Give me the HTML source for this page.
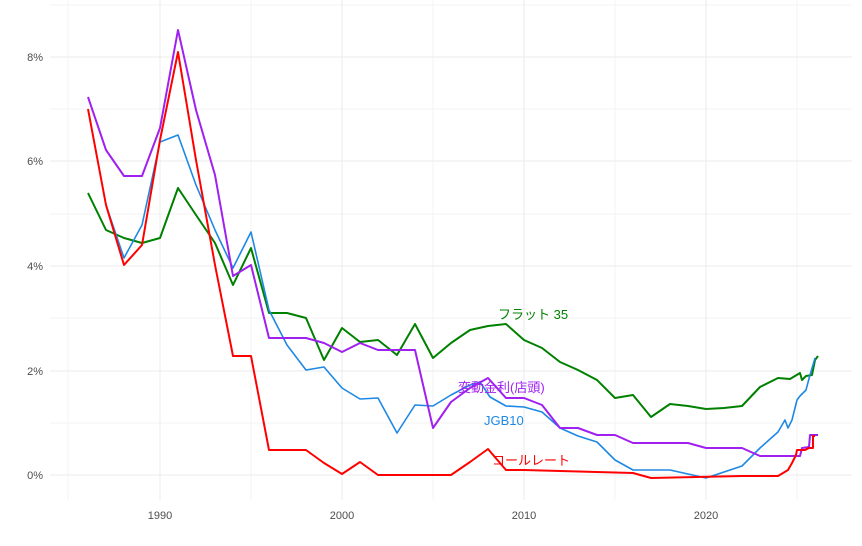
<!DOCTYPE html>
<html><head><meta charset="utf-8"><style>body{margin:0;background:#fff}svg{display:block}</style></head><body>
<svg width="862" height="546" xmlns="http://www.w3.org/2000/svg" font-family="Liberation Sans, Noto Sans CJK JP, sans-serif">
<g stroke="#f3f3f3" stroke-width="1">
<line x1="50" x2="852" y1="423" y2="423"/><line x1="50" x2="852" y1="318" y2="318"/><line x1="50" x2="852" y1="214" y2="214"/><line x1="50" x2="852" y1="109" y2="109"/><line x1="50" x2="852" y1="5" y2="5"/>
<line x1="68" x2="68" y1="0" y2="500"/><line x1="251" x2="251" y1="0" y2="500"/><line x1="433" x2="433" y1="0" y2="500"/><line x1="615" x2="615" y1="0" y2="500"/><line x1="797" x2="797" y1="0" y2="500"/>
</g>
<g stroke="#ebebeb" stroke-width="1">
<line x1="50" x2="852" y1="475" y2="475"/><line x1="50" x2="852" y1="371" y2="371"/><line x1="50" x2="852" y1="266" y2="266"/><line x1="50" x2="852" y1="161" y2="161"/><line x1="50" x2="852" y1="57" y2="57"/>
<line x1="160" x2="160" y1="0" y2="500"/><line x1="342" x2="342" y1="0" y2="500"/><line x1="524" x2="524" y1="0" y2="500"/><line x1="706" x2="706" y1="0" y2="500"/>
</g>
<g font-size="11" fill="#4d4d4d" text-anchor="end">
<text x="43" y="479">0%</text><text x="43" y="375">2%</text><text x="43" y="270">4%</text><text x="43" y="165">6%</text><text x="43" y="61">8%</text>
</g>
<g font-size="11" fill="#4d4d4d" text-anchor="middle">
<text x="160" y="519">1990</text><text x="342" y="519">2000</text><text x="524" y="519">2010</text><text x="706" y="519">2020</text>
</g>
<g fill="none" stroke-width="2" stroke-linejoin="round">
<polyline stroke="#008000" points="88,193 106,230 124,238 142,243 160,238 178,188 196,215 215,243 233,285 251,248 269,313 287,313 306,318 324,360 342,328 360,342 378,340 397,355 415,324 433,358 451,343 470,330 488,326 506,324 524,340 542,348 560,362 578,370 597,380 615,398 633,395 651,417 670,404 688,406 706,409 724,408 742,406 760,387 778,378 790,379 800,373 802,380 806,376 812,375 815,360 818,356"/>
<polyline stroke="#1e88e5" stroke-width="1.6" points="106,205 124,258 142,225 160,142 178,135 196,185 215,230 233,268 251,232 269,310 287,345 306,370 324,367 342,388 360,399 378,398 397,433 415,405 433,406 451,395 470,385 480,382 490,397 506,406 524,407 542,412 560,428 578,436 597,442 615,460 633,470 670,470 688,474 706,478 724,472 742,466 760,448 778,432 785,420 788,428 792,420 797,400 800,396 806,390 810,375 815,358"/>
<polyline stroke="#a020f0" points="88,97 106,150 124,176 142,176 160,128 178,30 196,110 215,175 233,276 251,265 269,338 306,338 324,343 342,352 360,343 378,350 415,350 433,428 451,402 470,388 488,378 506,398 524,398 542,405 560,428 578,428 597,435 615,435 633,443 670,443 688,443 706,448 742,448 760,456 800,456 802,448 809,447 810,435 818,435"/>
<polyline stroke="#ff0000" points="88,109 106,205 124,265 142,245 160,140 178,52 196,160 215,265 233,356 251,356 269,450 306,450 324,463 342,474 360,462 378,475 451,475 470,462 488,449 506,470 524,470 633,473 651,478 742,476 778,476 788,470 792,463 796,455 797,450 805,450 809,448 813,448 813,436 815,436"/>
</g>
<g font-size="13">
<text x="498" y="319" fill="#008000">フラット 35</text>
<text x="458" y="392" fill="#a020f0">変動金利(店頭)</text>
<text x="484" y="425" fill="#1e88e5">JGB10</text>
<text x="492" y="465" fill="#ff0000">コールレート</text>
</g>
</svg>
</body></html>
